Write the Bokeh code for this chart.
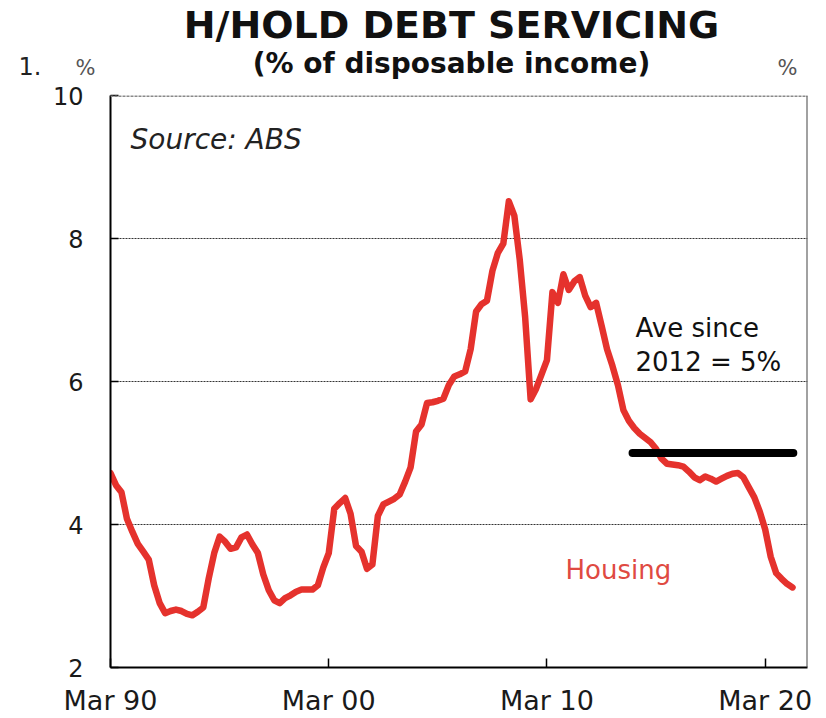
import pandas as pd
from bokeh.plotting import figure
from bokeh.layouts import column
from bokeh.models import Range1d, FixedTicker, DatetimeTickFormatter, Label, Span, ColumnDataSource
from bokeh.core.properties import value
from bokeh.embed import file_html
from bokeh.resources import INLINE

# ---------------- data ----------------
title_text = "H/HOLD DEBT SERVICING"
subtitle_text = "(% of disposable income)"
chart_number = "1."
unit_label = "%"
source_note = "Source: ABS"
series_name = "Housing"
avg_note_1 = "Ave since"
avg_note_2 = "2012 = 5%"

first_quarter = "1990-03-01"
housing = [
    4.72, 4.55, 4.45, 4.08,   # 1990
    3.90, 3.73, 3.62, 3.51,   # 1991
    3.15, 2.90, 2.76, 2.79,   # 1992
    2.81, 2.79, 2.75, 2.73,   # 1993
    2.78, 2.84, 3.25, 3.60,   # 1994
    3.83, 3.76, 3.66, 3.68,   # 1995
    3.82, 3.86, 3.72, 3.60,   # 1996
    3.30, 3.08, 2.94, 2.90,   # 1997
    2.97, 3.01, 3.06, 3.09,   # 1998
    3.09, 3.09, 3.15, 3.40,   # 1999
    3.60, 4.22, 4.30, 4.37,   # 2000
    4.15, 3.70, 3.62, 3.38,   # 2001
    3.44, 4.12, 4.28, 4.32,   # 2002
    4.36, 4.42, 4.60, 4.80,   # 2003
    5.30, 5.40, 5.70, 5.71,   # 2004
    5.73, 5.76, 5.95, 6.07,   # 2005
    6.10, 6.14, 6.45, 6.98,   # 2006
    7.08, 7.13, 7.55, 7.80,   # 2007
    7.93, 8.52, 8.32, 7.70,   # 2008
    6.90, 5.75, 5.90, 6.10,   # 2009
    6.30, 7.25, 7.10, 7.50,   # 2010
    7.28, 7.40, 7.46, 7.20,   # 2011
    7.04, 7.10, 6.78, 6.45,   # 2012
    6.22, 5.95, 5.60, 5.45,   # 2013
    5.35, 5.27, 5.21, 5.15,   # 2014
    5.06, 4.92, 4.85, 4.84,   # 2015
    4.83, 4.81, 4.74, 4.66,   # 2016
    4.62, 4.67, 4.64, 4.60,   # 2017
    4.64, 4.68, 4.71, 4.72,   # 2018
    4.66, 4.52, 4.38, 4.18,   # 2019
    3.93, 3.55, 3.32, 3.24,   # 2020
    3.17, 3.12,               # 2021
]

avg_value = 5.0
avg_start = "2014-02-01"
avg_end = "2021-06-15"

x_ticks = ["1990-03-01", "2000-03-01", "2010-03-01", "2020-03-01"]
y_ticks = [2, 4, 6, 8, 10]
grid_levels = [4, 6, 8]
x_start = "1990-03-01"
x_end = "2022-02-07"
y_start, y_end = 2, 10

# ---------------- styles ----------------
FONT = "DejaVu Sans"
RED = "#e5322d"
RED_TEXT = "#df4a42"
W = 820
HEAD_H = 80


def ms(d):
    return pd.Timestamp(d).value / 1e6


# ---------------- header (title rows); coordinates = page pixels, y downward ----------------
head = figure(width=W, height=HEAD_H, x_range=Range1d(0, W), y_range=Range1d(HEAD_H, 0),
              x_axis_location=None, y_axis_location=None,
              min_border=0, min_border_left=0, min_border_right=0,
              min_border_top=0, min_border_bottom=0,
              output_backend="svg", toolbar_location=None)
head.title = None
head.outline_line_color = None
head.grid.visible = False
head.frame_align = False


def htext(text, x, y, size, style="normal", color="#111111", align="left"):
    head.text(x=[x], y=[y], text=[text], text_font=value(FONT), text_font_size=size,
              text_font_style=style, text_color=color, text_align=align,
              text_baseline="alphabetic")


htext(title_text, 451, 24, "38px", "bold", "#111111", "center")
htext(subtitle_text, 451, 63, "28px", "bold", "#111111", "center")
htext(chart_number, 18, 65, "24px", "normal", "#222222")
htext(unit_label, 85, 67, "21px", "normal", "#555555", "center")
htext(unit_label, 787, 67, "21px", "normal", "#555555", "center")

# ---------------- main chart ----------------
dates = pd.date_range(first_quarter, periods=len(housing), freq="3MS")
src = ColumnDataSource(data=dict(date=dates, value=housing))
avg_src = ColumnDataSource(data=dict(date=[pd.Timestamp(avg_start), pd.Timestamp(avg_end)],
                                     value=[avg_value, avg_value]))

p = figure(width=W, height=718 - HEAD_H, x_axis_type="datetime",
           x_range=Range1d(pd.Timestamp(x_start), pd.Timestamp(x_end)),
           y_range=Range1d(y_start, y_end),
           output_backend="svg", toolbar_location=None,
           min_border_left=110, min_border_top=95 - HEAD_H, min_border_right=13,
           min_border_bottom=50)
p.title = None
p.outline_line_color = None
p.frame_align = False

# grid
p.xgrid.grid_line_color = None
p.ygrid.ticker = FixedTicker(ticks=grid_levels)
p.ygrid.grid_line_color = "#333333"
p.ygrid.grid_line_dash = "2 1"
p.ygrid.grid_line_width = 1.2

# y axis
p.yaxis.ticker = FixedTicker(ticks=y_ticks)
p.yaxis.axis_line_color = "black"
p.yaxis.axis_line_width = 2
p.yaxis.major_tick_in = 8
p.yaxis.major_tick_out = 0
p.yaxis.major_tick_line_color = "black"
p.yaxis.major_tick_line_width = 1.5
p.yaxis.minor_tick_line_color = None
p.yaxis.major_label_text_font = FONT
p.yaxis.major_label_text_font_size = "24px"
p.yaxis.major_label_text_color = "#1a1a1a"
p.yaxis.major_label_standoff = 27

# x axis
p.xaxis.ticker = FixedTicker(ticks=[ms(d) for d in x_ticks])
p.xaxis.formatter = DatetimeTickFormatter(years="%b %y", months="%b %y", days="%b %y")
p.xaxis.axis_line_color = "black"
p.xaxis.axis_line_width = 2
p.xaxis.major_tick_in = 9
p.xaxis.major_tick_out = 0
p.xaxis.major_tick_line_color = "black"
p.xaxis.major_tick_line_width = 1.5
p.xaxis.minor_tick_line_color = None
p.xaxis.major_label_text_font = FONT
p.xaxis.major_label_text_font_size = "27px"
p.xaxis.major_label_text_color = "#1a1a1a"
p.xaxis.major_label_standoff = 17

# frame top and right
p.add_layout(Span(location=y_end, dimension="width", line_color="#8a8a8a",
                  line_width=3, line_dash="3 1"))
p.add_layout(Span(location=ms(x_end), dimension="height", line_color="#444444",
                  line_width=2))

# series
p.line("date", "value", source=src, line_color=RED, line_width=6.5, line_join="round",
       line_cap="round")
p.line("date", "value", source=avg_src, line_color="black", line_width=8, line_cap="round")


# texts inside the frame (screen units from the frame's bottom-left corner)
def lab(text, x, y, size, style="normal", color="#111111", align="left"):
    p.add_layout(Label(x=x, y=y, x_units="screen", y_units="screen", text=text,
                       text_font=FONT, text_font_size=size, text_font_style=style,
                       text_color=color, text_align=align, text_baseline="alphabetic"))


lab(source_note, 20, 528, "28px", "italic", "#222222")
lab(avg_note_1, 525, 340, "26px", "normal", "#111111")
lab(avg_note_2, 525, 306, "26px", "normal", "#111111")
lab(series_name, 455, 98, "26px", "normal", RED_TEXT)

layout = column(head, p, spacing=0)
open("out.html", "w").write(file_html(layout, INLINE))
